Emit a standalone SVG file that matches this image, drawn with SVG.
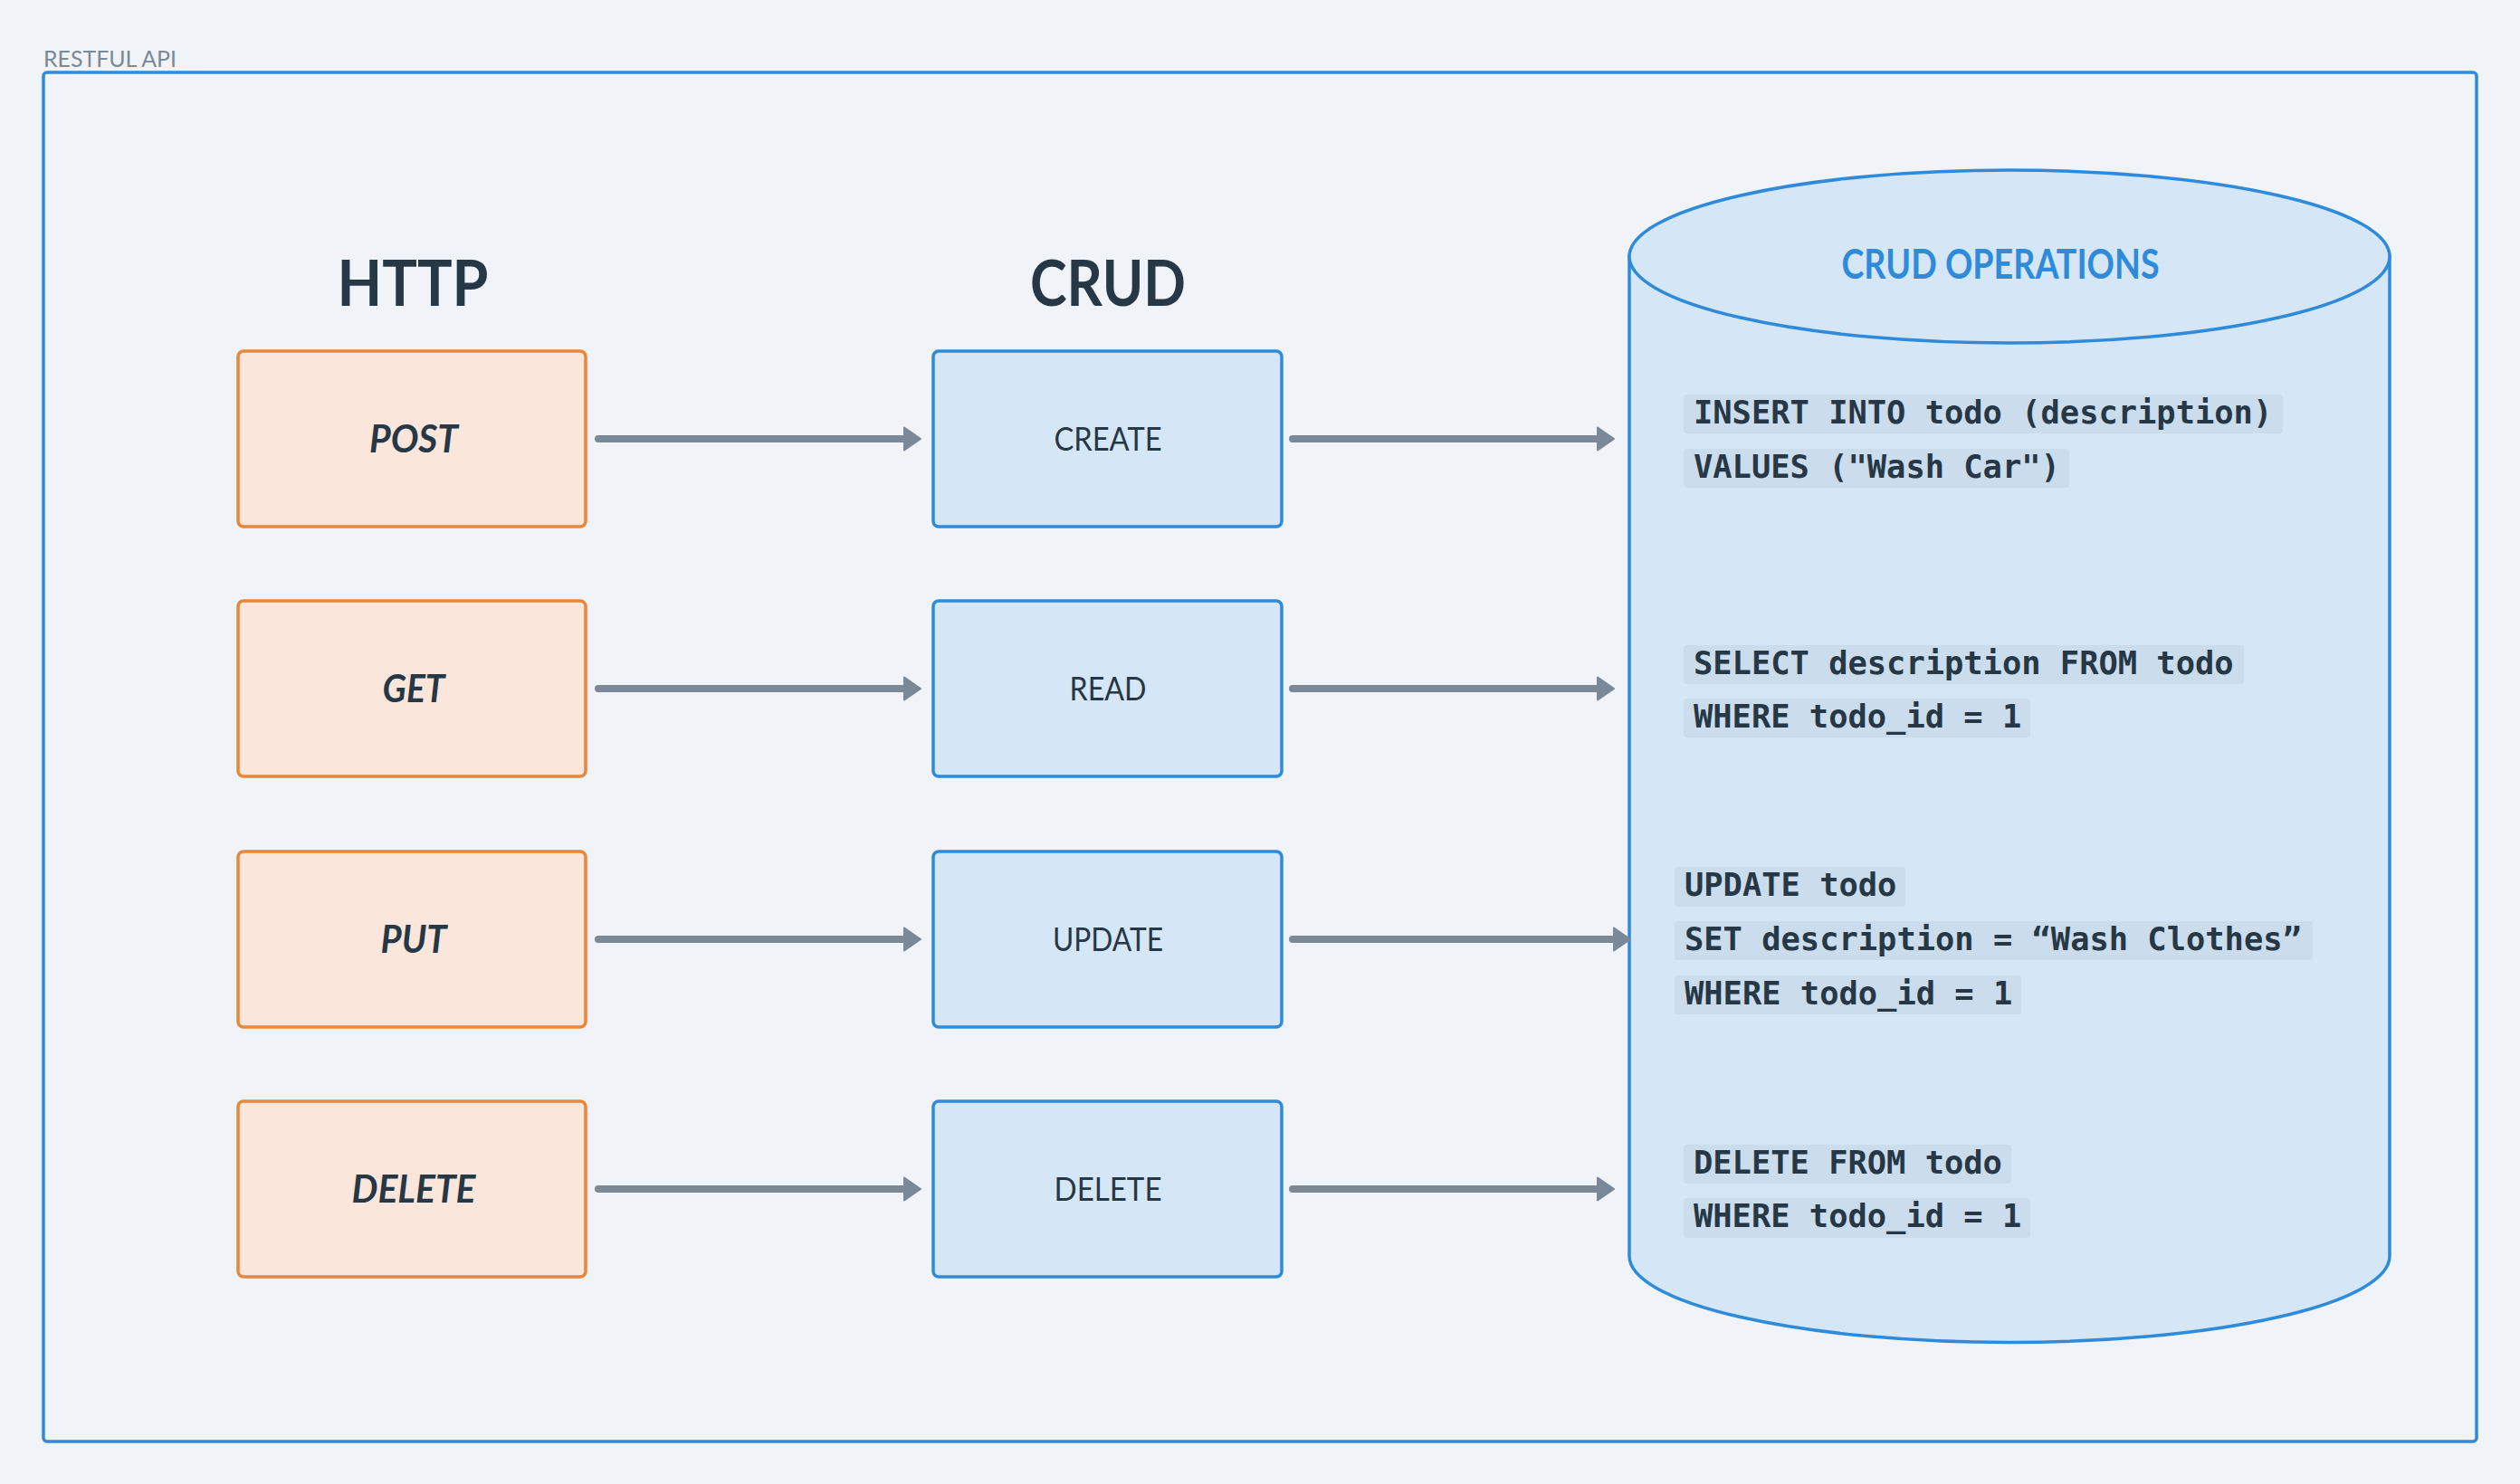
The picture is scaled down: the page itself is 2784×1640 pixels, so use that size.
<svg xmlns="http://www.w3.org/2000/svg" width="2784" height="1640" viewBox="0 0 2784 1640">
<style>
.bg{fill:#f0f4f8}
.frame{fill:none;stroke:#2e8ada;stroke-width:3.5}
.frame-label{font-family:Lato,"Liberation Sans",sans-serif;font-size:25px;fill:#7a8a99}
.title{font-family:Lato,"Liberation Sans",sans-serif;font-size:70px;font-weight:700;fill:#263746;text-anchor:middle}
.http{fill:#fae6da;stroke:#e8873a;stroke-width:3.5}
.crud{fill:#d5e6f6;stroke:#2e8ada;stroke-width:3.5}
.http-t{font-family:Lato,"Liberation Sans",sans-serif;font-size:42px;font-weight:700;font-style:italic;fill:#263746;text-anchor:middle}
.crud-t{font-family:Lato,"Liberation Sans",sans-serif;font-size:36px;fill:#263746;text-anchor:middle}
.db{fill:#d5e6f6;stroke:#2e8ada;stroke-width:3.5}
.db-t{font-family:Lato,"Liberation Sans",sans-serif;font-size:45px;font-weight:700;fill:#2e8ada;text-anchor:middle}
.code-bg{fill:#cbdcec}
.code{font-family:"DejaVu Sans Mono","Liberation Mono",monospace;font-size:35.4px;font-weight:700;fill:#263746}
.conn{stroke:#7a8897;stroke-width:8;stroke-linecap:round;fill:none}
</style>
<defs>
<marker id="arrow" viewBox="0 0 20 28" refX="2" refY="14" markerWidth="20" markerHeight="28" markerUnits="userSpaceOnUse" orient="auto">
<path d="M1,1.5 L19,14 L1,26.5 Z" fill="#7a8897" stroke="#7a8897" stroke-width="2" stroke-linejoin="round"/>
</marker>
</defs>
<rect class="bg" x="0" y="0" width="2784" height="1640"/>
<g id="restful-api">
<text class="frame-label" x="48" y="74" textLength="147" lengthAdjust="spacingAndGlyphs">RESTFUL API</text>
<rect class="frame" x="48" y="80" width="2688" height="1513" rx="4"/>
</g>
<g id="title-http"><text class="title" x="456" y="338" textLength="167" lengthAdjust="spacingAndGlyphs">HTTP</text></g>
<g id="title-crud"><text class="title" x="1224" y="338" textLength="172" lengthAdjust="spacingAndGlyphs">CRUD</text></g>
<g id="http-post"><rect class="http" x="263" y="388" width="384" height="194" rx="6"/><text class="http-t" x="457" y="500" textLength="98" lengthAdjust="spacingAndGlyphs">POST</text></g>
<g id="http-get"><rect class="http" x="263" y="664" width="384" height="194" rx="6"/><text class="http-t" x="457" y="776" textLength="69" lengthAdjust="spacingAndGlyphs">GET</text></g>
<g id="http-put"><rect class="http" x="263" y="941" width="384" height="194" rx="6"/><text class="http-t" x="457" y="1053" textLength="73" lengthAdjust="spacingAndGlyphs">PUT</text></g>
<g id="http-delete"><rect class="http" x="263" y="1217" width="384" height="194" rx="6"/><text class="http-t" x="457" y="1329" textLength="137" lengthAdjust="spacingAndGlyphs">DELETE</text></g>
<g id="crud-create"><rect class="crud" x="1031" y="388" width="385" height="194" rx="6"/><text class="crud-t" x="1224" y="498" textLength="119" lengthAdjust="spacingAndGlyphs">CREATE</text></g>
<g id="crud-read"><rect class="crud" x="1031" y="664" width="385" height="194" rx="6"/><text class="crud-t" x="1224" y="774" textLength="85" lengthAdjust="spacingAndGlyphs">READ</text></g>
<g id="crud-update"><rect class="crud" x="1031" y="941" width="385" height="194" rx="6"/><text class="crud-t" x="1224" y="1051" textLength="122" lengthAdjust="spacingAndGlyphs">UPDATE</text></g>
<g id="crud-delete"><rect class="crud" x="1031" y="1217" width="385" height="194" rx="6"/><text class="crud-t" x="1224" y="1327" textLength="119" lengthAdjust="spacingAndGlyphs">DELETE</text></g>
<g id="crud-operations">
<path class="db" d="M1800,283.5 L1800,1388 A420,95.5 0 0 0 2640,1388 L2640,283.5 Z"/>
<ellipse class="db" cx="2220" cy="283.5" rx="420" ry="95.5"/>
<text class="db-t" x="2210" y="308" textLength="351" lengthAdjust="spacingAndGlyphs">CRUD OPERATIONS</text>
<rect class="code-bg" x="1860" y="436" width="662" height="43" rx="4"/>
<text class="code" x="1871" y="468">INSERT INTO todo (description)</text>
<rect class="code-bg" x="1860" y="496" width="426" height="43" rx="4"/>
<text class="code" x="1871" y="528">VALUES ("Wash Car")</text>
<rect class="code-bg" x="1860" y="713" width="619" height="43" rx="4"/>
<text class="code" x="1871" y="745">SELECT description FROM todo</text>
<rect class="code-bg" x="1860" y="772" width="383" height="43" rx="4"/>
<text class="code" x="1871" y="804">WHERE todo_id = 1</text>
<rect class="code-bg" x="1850" y="958" width="255" height="44" rx="4"/>
<text class="code" x="1861" y="990">UPDATE todo</text>
<rect class="code-bg" x="1850" y="1018" width="705" height="43" rx="4"/>
<text class="code" x="1861" y="1050">SET description = “Wash Clothes”</text>
<rect class="code-bg" x="1850" y="1078" width="383" height="43" rx="4"/>
<text class="code" x="1861" y="1110">WHERE todo_id = 1</text>
<rect class="code-bg" x="1860" y="1265" width="362" height="43" rx="4"/>
<text class="code" x="1871" y="1297">DELETE FROM todo</text>
<rect class="code-bg" x="1860" y="1324" width="383" height="44" rx="4"/>
<text class="code" x="1871" y="1356">WHERE todo_id = 1</text>
</g>
<g id="connectors">
<path class="conn" marker-end="url(#arrow)" d="M661,485 L1000,485"/>
<path class="conn" marker-end="url(#arrow)" d="M661,761 L1000,761"/>
<path class="conn" marker-end="url(#arrow)" d="M661,1038 L1000,1038"/>
<path class="conn" marker-end="url(#arrow)" d="M661,1314 L1000,1314"/>
<path class="conn" marker-end="url(#arrow)" d="M1428,485 L1766,485"/>
<path class="conn" marker-end="url(#arrow)" d="M1428,761 L1766,761"/>
<path class="conn" marker-end="url(#arrow)" d="M1428,1038 L1784,1038"/>
<path class="conn" marker-end="url(#arrow)" d="M1428,1314 L1766,1314"/>
</g>
</svg>
